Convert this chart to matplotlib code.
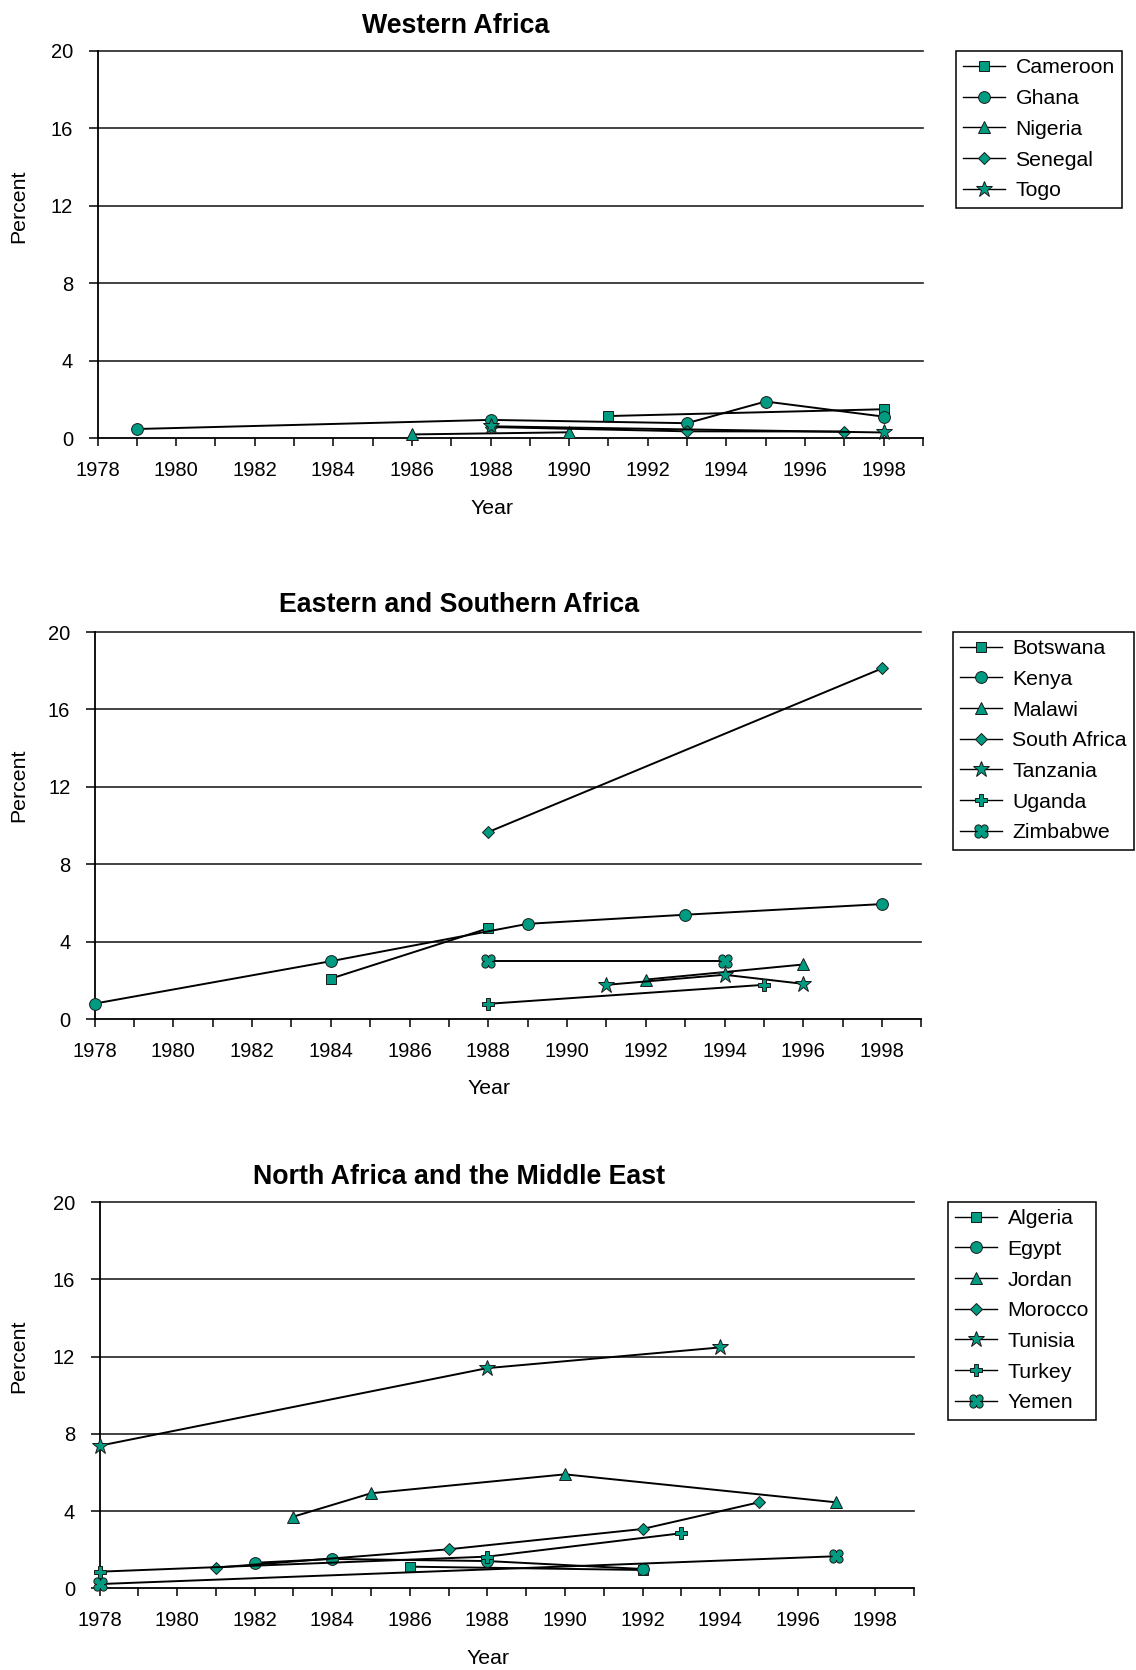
import numpy as np
import matplotlib
matplotlib.use("Agg")
import matplotlib.pyplot as plt
from matplotlib.path import Path
from matplotlib.lines import Line2D

plt.rcParams['font.family'] = ['Liberation Sans', 'DejaVu Sans']

# ---- Western Africa ----
cameroon_yr = [1991, 1998]
cameroon = [1.15, 1.5]
ghana_yr = [1979, 1988, 1993, 1995, 1998]
ghana = [0.48, 0.95, 0.78, 1.9, 1.12]
nigeria_yr = [1986, 1990]
nigeria = [0.2, 0.31]
senegal_yr = [1988, 1993, 1997]
senegal = [0.58, 0.36, 0.35]
togo_yr = [1988, 1998]
togo = [0.62, 0.3]

# ---- Eastern and Southern Africa ----
botswana_yr = [1984, 1988]
botswana = [2.1, 4.7]
kenya_yr = [1978, 1984, 1989, 1993, 1998]
kenya = [0.81, 3.0, 4.93, 5.4, 5.95]
malawi_yr = [1992, 1996]
malawi = [2.05, 2.83]
safrica_yr = [1988, 1998]
safrica = [9.67, 18.12]
tanzania_yr = [1991, 1994, 1996]
tanzania = [1.78, 2.3, 1.83]
uganda_yr = [1988, 1995]
uganda = [0.8, 1.78]
zimbabwe_yr = [1988, 1994]
zimbabwe = [3.0, 3.0]

# ---- North Africa and the Middle East ----
algeria_yr = [1986, 1992]
algeria = [1.12, 0.95]
egypt_yr = [1982, 1984, 1988, 1992]
egypt = [1.32, 1.52, 1.41, 1.0]
jordan_yr = [1983, 1985, 1990, 1997]
jordan = [3.71, 4.92, 5.9, 4.45]
morocco_yr = [1981, 1987, 1992, 1995]
morocco = [1.07, 2.02, 3.07, 4.45]
tunisia_yr = [1978, 1988, 1994]
tunisia = [7.38, 11.4, 12.47]
turkey_yr = [1978, 1988, 1993]
turkey = [0.86, 1.64, 2.85]
yemen_yr = [1978, 1997]
yemen = [0.22, 1.66]

years = list(range(1978, 2000))
yticks = [0, 4, 8, 12, 16, 20]

TEAL = '#009c82'
EDGE = '#1a1a1a'


def quatrefoil():
    # four-lobed marker with notches at top/bottom/left/right
    t = np.linspace(0, 2 * np.pi, 161)
    r = 0.5 + 0.5 * np.abs(np.sin(2 * t)) ** 0.6
    pts = np.column_stack([r * np.cos(t), r * np.sin(t)])
    codes = [Path.MOVETO] + [Path.LINETO] * (len(pts) - 2) + [Path.CLOSEPOLY]
    return Path(pts, codes)


MARKERS = {
    's': dict(marker='s', ms=7),
    'o': dict(marker='o', ms=8.5),
    '^': dict(marker='^', ms=8.5),
    'D': dict(marker='D', ms=6),
    '*': dict(marker='*', ms=12),
    'P': dict(marker='P', ms=8),
    'Q': dict(marker=quatrefoil(), ms=9.5),
}

W, H = 1136, 1670
fig = plt.figure(figsize=(W / 100, H / 100), dpi=100)


def px_axes(left, top, right, bottom):
    return fig.add_axes([left / W, 1 - bottom / H, (right - left) / W, (bottom - top) / H])


def draw_panel(ax, series, legend_xy):
    handles = []
    for name, yr, val, mk in series:
        st = MARKERS[mk]
        ax.plot(yr, val, color='black', lw=1.4, marker=st['marker'], ms=st['ms'],
                mfc=TEAL, mec=EDGE, mew=0.7, clip_on=False, zorder=3)
        handles.append(Line2D([], [], color='black', lw=1.0, marker=st['marker'],
                              ms=st['ms'], mfc=TEAL, mec=EDGE, mew=0.7, label=name))
    ax.set_xlim(1978, 1999)
    ax.set_ylim(0, 20)
    ax.set_xticks(years)
    ax.set_xticklabels([str(y) if y % 2 == 0 and y < 1999 else '' for y in years])
    ax.set_yticks(yticks)
    ax.tick_params(axis='x', direction='out', length=6, width=1.1, pad=10.5, labelsize=14.5)
    ax.tick_params(axis='y', direction='out', length=6.5, width=1.1, pad=11, labelsize=14.5)
    for s in ['top', 'right']:
        ax.spines[s].set_visible(False)
    for s in ['left', 'bottom']:
        ax.spines[s].set_linewidth(1.3)
        ax.spines[s].set_color('black')
    for v in yticks[1:]:
        ax.axhline(v, color='#222222', lw=1.2, zorder=1, clip_on=False)
    leg = ax.legend(handles=handles, loc='upper left',
                    bbox_to_anchor=(legend_xy[0] / W, 1 - legend_xy[1] / H),
                    bbox_transform=fig.transFigure, borderaxespad=0,
                    fontsize=15.3, handlelength=1.95, handletextpad=0.5,
                    borderpad=0.35, labelspacing=0.55, fancybox=False,
                    framealpha=1, edgecolor='black')
    leg.get_frame().set_linewidth(1.1)


def labels(title_xy, title, ylab_y, xlab_xy):
    fig.text(title_xy[0] / W, 1 - title_xy[1] / H, title, ha='center', va='center',
             fontsize=19.3, fontweight='bold')
    fig.text(19 / W, 1 - ylab_y / H, 'Percent', rotation=90, ha='center', va='center',
             fontsize=15.3)
    fig.text(xlab_xy[0] / W, 1 - xlab_xy[1] / H, 'Year', ha='center', va='center',
             fontsize=15.3)


ax1 = px_axes(97.5, 51, 922.8, 438.3)
draw_panel(ax1, [
    ('Cameroon', cameroon_yr, cameroon, 's'),
    ('Ghana', ghana_yr, ghana, 'o'),
    ('Nigeria', nigeria_yr, nigeria, '^'),
    ('Senegal', senegal_yr, senegal, 'D'),
    ('Togo', togo_yr, togo, '*'),
], (956, 51))
labels((456, 26), 'Western Africa', 206.5, (492, 509))

ax2 = px_axes(94.6, 632, 921.4, 1019.3)
draw_panel(ax2, [
    ('Botswana', botswana_yr, botswana, 's'),
    ('Kenya', kenya_yr, kenya, 'o'),
    ('Malawi', malawi_yr, malawi, '^'),
    ('South Africa', safrica_yr, safrica, 'D'),
    ('Tanzania', tanzania_yr, tanzania, '*'),
    ('Uganda', uganda_yr, uganda, 'P'),
    ('Zimbabwe', zimbabwe_yr, zimbabwe, 'Q'),
], (953, 631.7))
labels((459, 604.5), 'Eastern and Southern Africa', 785.7, (488.7, 1089))

ax3 = px_axes(99.5, 1202, 914, 1588.3)
draw_panel(ax3, [
    ('Algeria', algeria_yr, algeria, 's'),
    ('Egypt', egypt_yr, egypt, 'o'),
    ('Jordan', jordan_yr, jordan, '^'),
    ('Morocco', morocco_yr, morocco, 'D'),
    ('Tunisia', tunisia_yr, tunisia, '*'),
    ('Turkey', turkey_yr, turkey, 'P'),
    ('Yemen', yemen_yr, yemen, 'Q'),
], (948, 1201.7))
labels((459, 1177), 'North Africa and the Middle East', 1356.4, (487.6, 1658))

fig.savefig('out.png', dpi=100)
